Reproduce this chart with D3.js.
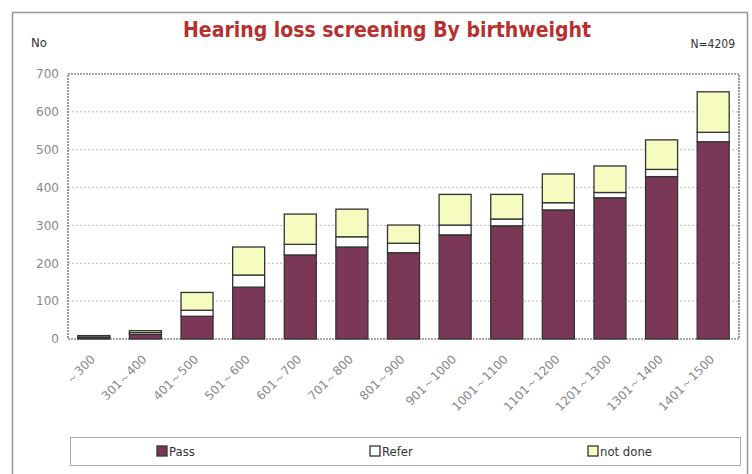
<!DOCTYPE html>
<html>
<head>
<meta charset="utf-8">
<script src="https://cdn.jsdelivr.net/npm/d3@7"></script>
<style>
  body { margin: 0; background: #fff; }
  svg { display: block; }
</style>
</head>
<body>
<svg id="svg" width="752" height="474"></svg>
<script>
// birthweight groups (g)
var categories = ["～300", "301～400", "401～500", "501～600", "601～700", "701～800", "801～900",
                  "901～1000", "1001～1100", "1101～1200", "1201～1300", "1301～1400", "1401～1500"];
var pass    = [4, 12, 60, 137, 222, 243, 228, 275, 299, 341, 373, 429, 521];
var refer   = [1, 5, 16, 32, 28, 27, 25, 26, 18, 19, 14, 19, 25];
var notDone = [4, 5, 47, 74, 80, 73, 48, 81, 65, 76, 70, 78, 107];
var seriesNames = ["Pass", "Refer", "not done"];
var yTicks = [0, 100, 200, 300, 400, 500, 600, 700];

var colors = { "Pass": "#7b3856", "Refer": "#ffffff", "not done": "#f6fbbf" };

var svg = d3.select("#svg");
var plotLeft = 68, plotRight = 739, plotTop = 74, plotBottom = 339;

// outer frame of the slide
svg.append("rect")
  .attr("x", 12.5).attr("y", 12.5)
  .attr("width", 735).attr("height", 470)
  .attr("fill", "none").attr("stroke", "#999").attr("stroke-width", 1.5);

var x = d3.scaleBand().domain(categories).range([plotLeft, plotRight]).paddingInner(0.38).paddingOuter(0.19);
var y = d3.scaleLinear().domain([0, 700]).range([plotBottom, plotTop]);

// gridlines
svg.append("g").selectAll("line").data(yTicks.slice(1, -1)).join("line")
  .attr("x1", plotLeft).attr("x2", plotRight)
  .attr("y1", function(d) { return y(d); }).attr("y2", function(d) { return y(d); })
  .attr("stroke", "#bbb").attr("stroke-dasharray", "2,2");

// plot border
svg.append("rect")
  .attr("x", plotLeft).attr("y", plotTop)
  .attr("width", plotRight - plotLeft).attr("height", plotBottom - plotTop)
  .attr("fill", "none").attr("stroke", "#555").attr("stroke-width", 1.2)
  .attr("stroke-dasharray", "2,1");

// y axis labels
var yAxis = d3.axisLeft(y).tickValues(yTicks).tickSize(0).tickPadding(9);
svg.append("g").attr("transform", "translate(" + plotLeft + ",0)").call(yAxis)
  .call(function(g) { g.select(".domain").remove(); })
  .selectAll("text")
  .attr("fill", "#888").attr("font-size", 12).attr("font-family", "DejaVu Sans");

// stacked bars
var table = categories.map(function(c, i) {
  return { cat: c, "Pass": pass[i], "Refer": refer[i], "not done": notDone[i] };
});
var stack = d3.stack().keys(seriesNames)(table);

svg.append("g").selectAll("g").data(stack).join("g")
  .attr("fill", function(d) { return colors[d.key]; })
  .selectAll("rect").data(function(d) { return d; }).join("rect")
  .attr("x", function(d) { return x(d.data.cat); })
  .attr("width", x.bandwidth())
  .attr("y", function(d) { return y(d[1]); })
  .attr("height", function(d) { return y(d[0]) - y(d[1]); })
  .attr("stroke", "#333").attr("stroke-width", 1.3);

// x labels
var xAxis = d3.axisBottom(x).tickSize(0).tickPadding(0);
svg.append("g").attr("transform", "translate(0," + plotBottom + ")").call(xAxis)
  .call(function(g) { g.select(".domain").remove(); })
  .selectAll("text")
  .attr("fill", "#888").attr("font-size", 12).attr("font-family", "DejaVu Sans")
  .attr("text-anchor", "end")
  .attr("dy", 0)
  .attr("transform", "translate(2,21) rotate(-45)");

// title and notes
svg.append("text").attr("x", 387).attr("y", 37).attr("text-anchor", "middle")
  .attr("fill", "#b5302f").attr("font-size", 21).attr("font-weight", "bold")
  .attr("font-family", "DejaVu Sans Condensed")
  .text("Hearing loss screening By birthweight");
svg.append("text").attr("x", 31).attr("y", 47)
  .attr("fill", "#333").attr("font-size", 13).attr("font-family", "DejaVu Sans Condensed")
  .text("No");
svg.append("text").attr("x", 735).attr("y", 48).attr("text-anchor", "end")
  .attr("fill", "#333").attr("font-size", 12).attr("font-family", "DejaVu Sans Condensed")
  .text("N=4209");

// legend
svg.append("rect").attr("x", 70.5).attr("y", 437.5).attr("width", 670).attr("height", 28)
  .attr("fill", "#fff").attr("stroke", "#aaa");
var legendX = [157, 370, 588];
var leg = svg.append("g").selectAll("g").data(seriesNames).join("g")
  .attr("transform", function(d, i) { return "translate(" + legendX[i] + ",446)"; });
leg.append("rect").attr("width", 10).attr("height", 10)
  .attr("fill", function(d) { return colors[d]; }).attr("stroke", "#333").attr("stroke-width", 1.3);
leg.append("text").attr("x", 12).attr("y", 10)
  .attr("fill", "#333").attr("font-size", 13).attr("font-family", "DejaVu Sans Condensed")
  .text(function(d) { return d; });
</script>
</body>
</html>
